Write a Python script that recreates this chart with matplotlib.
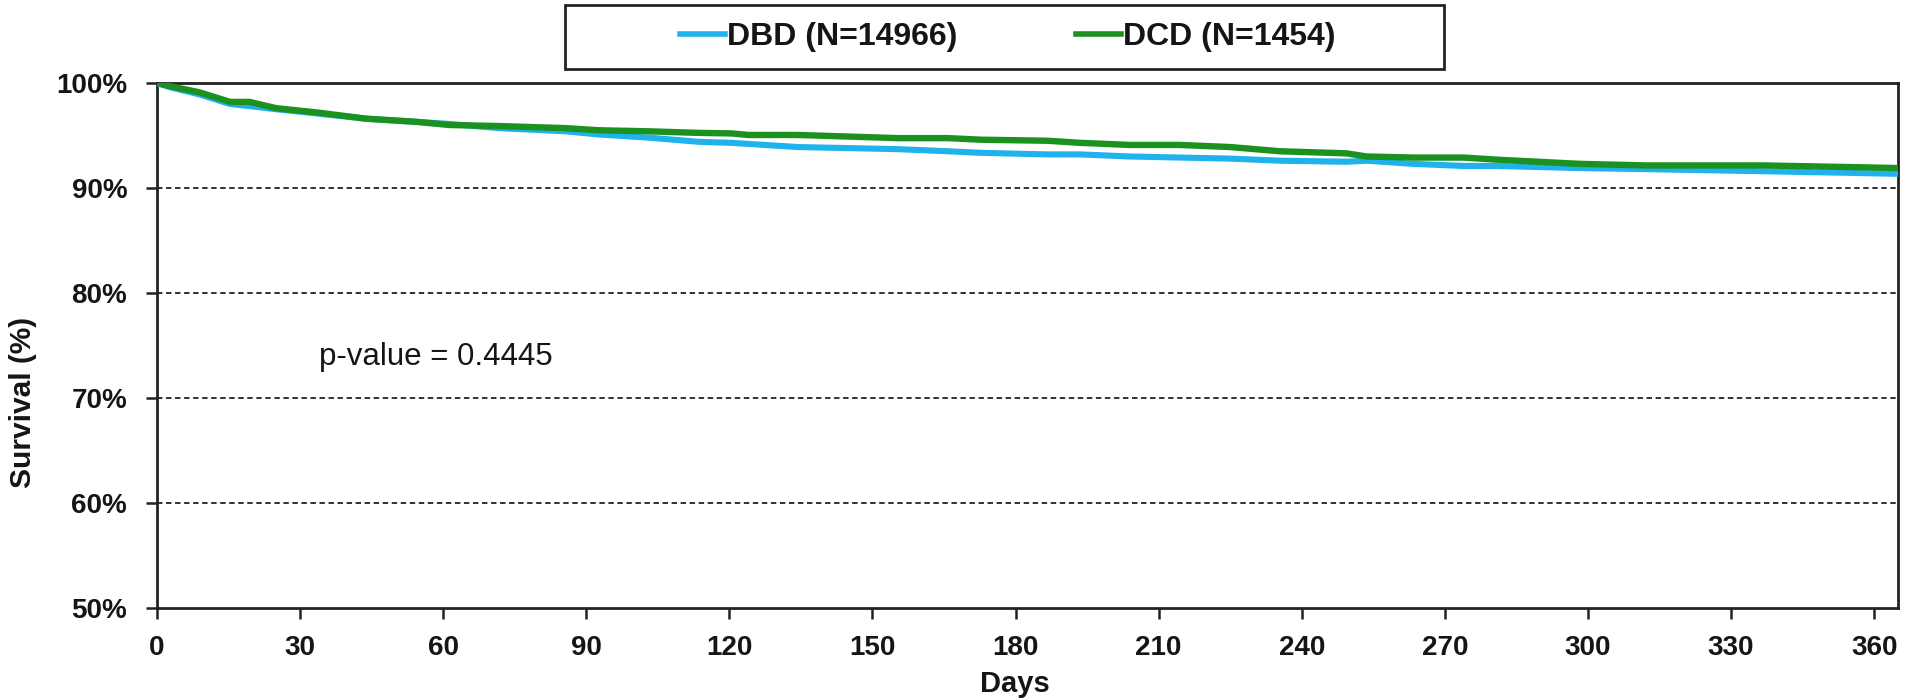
import matplotlib
matplotlib.use("Agg")
import matplotlib.pyplot as plt
from matplotlib.patches import Rectangle
from matplotlib.lines import Line2D

plt.rcParams['font.family'] = ['Liberation Sans', 'DejaVu Sans']

# Data (days, survival %)
dbd_days = [0, 2.7, 9, 15.3, 19.4, 25, 33.4, 43.9, 54.4, 61.3, 71.7, 85.7, 92.6, 103, 113.5,
            120.4, 124, 134.4, 144.9, 155.3, 165.8, 172.7, 186.7, 193.6, 204, 214.5, 225,
            235.4, 249.4, 253.6, 263.4, 273.9, 280.8, 298.2, 312, 336.6, 354, 365]
dbd_surv = [100, 99.6, 98.9, 98.0, 97.8, 97.5, 97.1, 96.6, 96.3, 96.1, 95.7, 95.4, 95.1, 94.8,
            94.4, 94.3, 94.2, 93.9, 93.8, 93.7, 93.5, 93.35, 93.2, 93.2, 93.0, 92.9, 92.8,
            92.6, 92.5, 92.6, 92.3, 92.1, 92.1, 91.9, 91.8, 91.6, 91.45, 91.35]

dcd_days = [0, 2.7, 9, 15.3, 19.4, 25, 33.4, 43.9, 54.4, 61.3, 71.7, 85.7, 92.6, 103, 113.5,
            120.4, 124, 134.4, 144.9, 155.3, 165.8, 172.7, 186.7, 193.6, 204, 214.5, 225,
            235.4, 249.4, 253.6, 263.4, 273.9, 280.8, 298.2, 312, 336.6, 354, 365]
dcd_surv = [100, 99.7, 99.1, 98.2, 98.2, 97.6, 97.2, 96.6, 96.3, 96.0, 95.9, 95.7, 95.5, 95.4,
            95.25, 95.2, 95.05, 95.05, 94.9, 94.75, 94.75, 94.6, 94.5, 94.3, 94.1, 94.1, 93.9,
            93.5, 93.3, 93.0, 92.9, 92.9, 92.7, 92.3, 92.15, 92.15, 92.0, 91.9]

series_labels = ['DBD (N=14966)', 'DCD (N=1454)']
x_ticks = list(range(0, 361, 30))
y_ticks = [50, 60, 70, 80, 90, 100]
y_ticklabels = ['50%', '60%', '70%', '80%', '90%', '100%']
p_text = 'p-value = 0.4445'

blue = '#1FB2EC'
green = '#1B911F'
ink = '#151515'

fig = plt.figure(figsize=(19.11, 7.0), dpi=100)
ax = fig.add_axes([157/1911, 1 - 608/700, (1898-157)/1911, (608-83)/700])

ax.plot(dbd_days, dbd_surv, color=blue, lw=4.4, solid_capstyle='butt', zorder=3)
ax.plot(dcd_days, dcd_surv, color=green, lw=4.6, solid_capstyle='butt', zorder=4)

ax.set_xlim(0, 365)
ax.set_ylim(50, 100)
ax.set_xticks(x_ticks)
ax.set_xticklabels([str(v) for v in x_ticks])
ax.set_yticks(y_ticks)
ax.set_yticklabels(y_ticklabels)

for v in [60, 70, 80, 90]:
    ax.axhline(v, color='#222222', lw=1.3, ls=(0, (3, 2)), zorder=1)

for s in ax.spines.values():
    s.set_linewidth(2.0)
    s.set_color('#222222')

ax.tick_params(axis='both', direction='out', length=8, width=1.8, color='#222222',
               labelsize=20)
ax.tick_params(axis='x', pad=11.5)
ax.tick_params(axis='y', pad=13.5)
for lab in ax.get_xticklabels() + ax.get_yticklabels():
    lab.set_fontweight('bold')
    lab.set_color(ink)

ax.set_xlabel('Days', fontsize=21, fontweight='bold', color=ink)
ax.xaxis.set_label_coords(0.493, -0.145)
ax.xaxis.label.set_verticalalignment('center')
ax.set_ylabel('Survival (%)', fontsize=21.5, fontweight='bold', color=ink)
ax.yaxis.set_label_coords(-0.077, 0.392)
ax.yaxis.label.set_verticalalignment('center')

ax.text(33.9, 73.9, p_text, fontsize=22.5, va='center', ha='left', color=ink)

# Legend box
fig.patches.append(Rectangle((565/1911, 1 - 69/700), (1444-565)/1911, 64/700,
                             transform=fig.transFigure, fill=False, edgecolor='#222222',
                             lw=2.0))
handles = [Line2D([], [], color=blue, lw=4), Line2D([], [], color=green, lw=4)]
leg = fig.legend(handles, series_labels, loc='center', bbox_to_anchor=(1008/1911, 1 - 37/700),
                 ncol=2, frameon=False, handlelength=1.4, handletextpad=0.08,
                 columnspacing=3.7,
                 prop={'weight': 'bold', 'size': 23})
for t in leg.get_texts():
    t.set_color(ink)

fig.savefig('out.png', dpi=100, facecolor='white')
